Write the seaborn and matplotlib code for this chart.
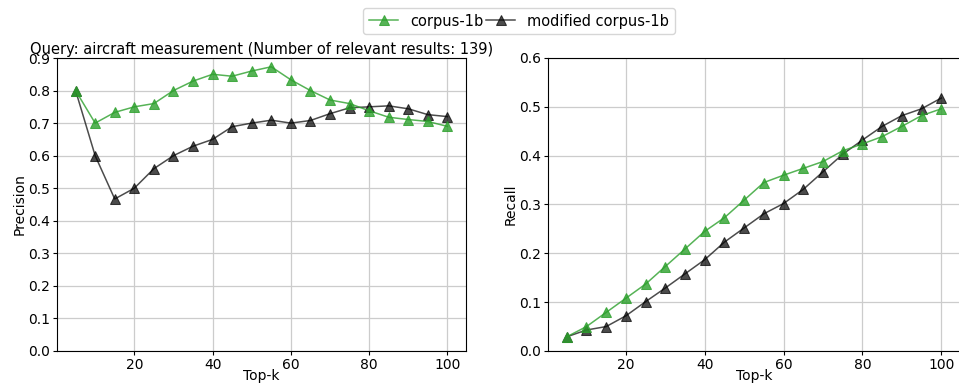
import numpy as np
import pandas as pd
import matplotlib
matplotlib.use('Agg')
import matplotlib.pyplot as plt
import seaborn as sns

# -----------------------

topk = [5, 10, 15, 20, 25, 30, 35, 40, 45, 50, 55, 60, 65, 70, 75, 80, 85, 90, 95, 100]

prec_orig = [0.800, 0.700, 0.733, 0.750, 0.760, 0.800, 0.829, 0.850, 0.844, 0.860,
	0.873, 0.833, 0.800, 0.771, 0.760, 0.738, 0.718, 0.711, 0.705, 0.690]
prec_mod = [0.800, 0.600, 0.467, 0.500, 0.560, 0.600, 0.629, 0.650, 0.689, 0.700,
	0.709, 0.700, 0.708, 0.729, 0.747, 0.750, 0.753, 0.744, 0.726, 0.720]

rec_orig = [0.029, 0.050, 0.079, 0.108, 0.137, 0.173, 0.209, 0.245, 0.273, 0.309,
	0.345, 0.360, 0.374, 0.388, 0.410, 0.424, 0.439, 0.460, 0.482, 0.496]
rec_mod = [0.029, 0.043, 0.050, 0.072, 0.101, 0.129, 0.158, 0.187, 0.223, 0.252,
	0.281, 0.302, 0.331, 0.367, 0.403, 0.432, 0.460, 0.482, 0.496, 0.518]

labels = ['corpus-1b', 'modified corpus-1b']
title = 'Query: aircraft measurement (Number of relevant results: 139)'

# -----------------------

n = len(topk)
df = pd.DataFrame({
	'Top-k': topk * 2,
	'Precision': prec_orig + prec_mod,
	'Recall': rec_orig + rec_mod,
	'corpus': [labels[0]] * n + [labels[1]] * n,
})

palette = {labels[0]: 'tab:green', labels[1]: 'black'}
alphas = {labels[0]: 0.8, labels[1]: 0.7}
zorders = {labels[0]: 3, labels[1]: 2}

fig = plt.figure(figsize=(9.59, 3.83), dpi=100)
ax1 = fig.add_axes([57 / 959, 32 / 383, 409 / 959, 293 / 383])
ax2 = fig.add_axes([548 / 959, 32 / 383, 412 / 959, 293 / 383])

for ax, metric, top in [(ax1, 'Precision', 0.9), (ax2, 'Recall', 0.6)]:
	for lab in labels:
		sub = df[df['corpus'] == lab]
		sns.lineplot(data=sub, x='Top-k', y=metric, ax=ax, color=palette[lab],
			marker='^', markersize=7, markeredgecolor=palette[lab], lw=1.1,
			alpha=alphas[lab], label=lab, legend=False, zorder=zorders[lab])
	ax.set_ylim(0, top)
	ax.set_yticks(np.arange(0, top + 0.01, 0.1))
	ax.set_xticks([20, 40, 60, 80, 100])
	ax.grid(True, color='#cccccc', lw=0.9)
	ax.set_axisbelow(True)
	ax.tick_params(labelsize=10, length=3, pad=2)
	ax.set_xlabel('Top-k', fontsize=10, labelpad=-2)
	ax.set_ylabel(metric, fontsize=10, labelpad=1)

ax1.set_title(title, fontsize=10.5, pad=3)

handles, lbls = ax1.get_legend_handles_labels()
fig.legend(handles, lbls, loc='center', bbox_to_anchor=(519 / 959, 0.945), ncol=2,
	fontsize=10.5, columnspacing=0.2, handlelength=2, handletextpad=0.8, frameon=True)

plt.savefig('out.png', dpi=100)
